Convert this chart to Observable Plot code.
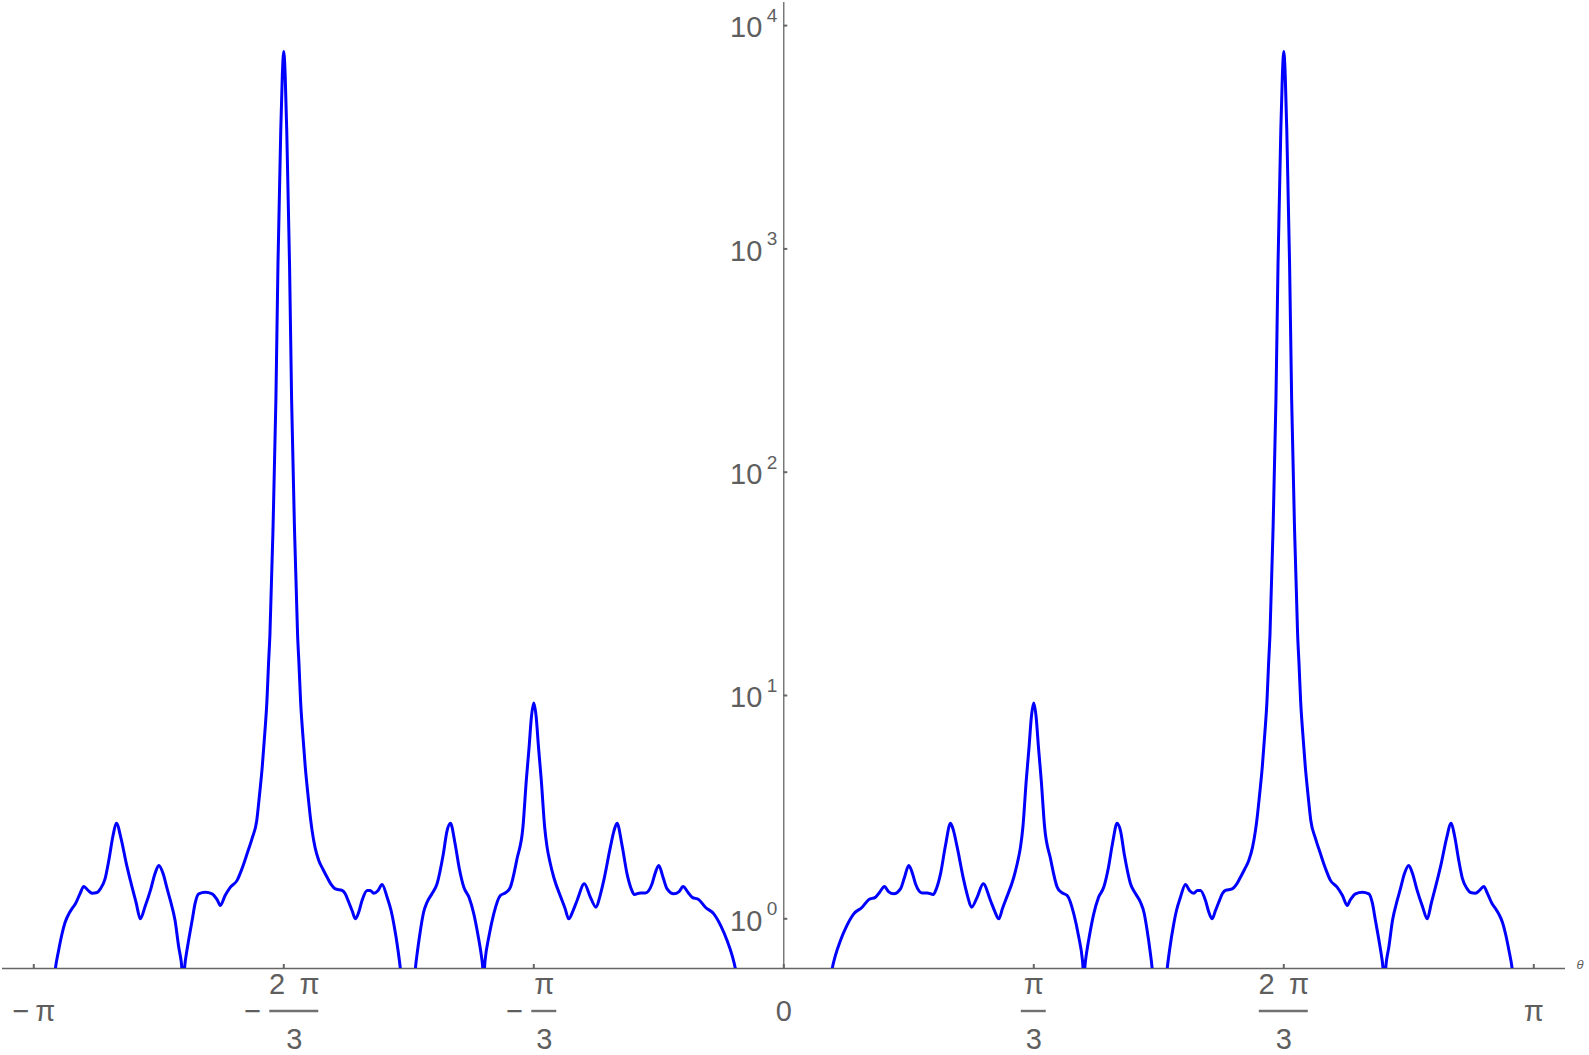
<!DOCTYPE html>
<html>
<head>
<meta charset="utf-8">
<script src="https://cdn.jsdelivr.net/npm/d3@7"></script>
<script src="https://cdn.jsdelivr.net/npm/@observablehq/plot@0.6"></script>
<style>
  html, body { margin: 0; padding: 0; background: #ffffff; }
  #chart svg { display: block; }
</style>
</head>
<body>
<div id="chart"></div>
<script>
// θ in units of π, value on a log axis (left half: −π … 0)
const thetaLeft = [
  -0.9736,-0.9712,-0.9669,-0.9623,-0.9583,-0.9533,-0.9489,-0.9445,-0.9383,-0.9333,
  -0.9276,-0.9223,-0.9156,-0.9112,-0.9049,-0.9000,-0.8943,-0.8899,-0.8836,-0.8769,
  -0.8712,-0.8636,-0.8579,-0.8516,-0.8445,-0.8383,-0.8333,-0.8276,-0.8223,-0.8179,
  -0.8116,-0.8067,-0.8036,-0.8009,-0.7979,-0.7936,-0.7889,-0.7849,-0.7801,-0.7712,
  -0.7623,-0.7556,-0.7512,-0.7449,-0.7378,-0.7289,-0.7223,-0.7156,-0.7090,-0.7027,
  -0.6991,-0.6954,-0.6920,-0.6891,-0.6871,-0.6851,-0.6812,-0.6772,-0.6744,
  -0.6707,-0.6686,-0.6667,-0.6648,-0.6627,-0.6590,-0.6562,-0.6522,-0.6483,
  -0.6463,-0.6443,-0.6414,-0.6380,-0.6343,-0.6307,-0.6289,-0.6249,-0.6200,-0.6143,
  -0.6089,-0.6036,-0.5979,-0.5889,-0.5849,-0.5800,-0.5756,-0.5712,-0.5669,-0.5623,
  -0.5556,-0.5516,-0.5467,-0.5409,-0.5356,-0.5289,-0.5236,-0.5200,-0.5143,-0.5112,
  -0.5089,-0.5000,
  -0.4929,-0.4912,-0.4883,-0.4845,-0.4803,-0.4756,-0.4689,-0.4623,-0.4543,-0.4489,
  -0.4445,-0.4383,-0.4329,-0.4267,-0.4196,-0.4133,-0.4076,-0.4023,-0.4000,-0.3983,
  -0.3929,-0.3867,-0.3779,-0.3703,-0.3645,-0.3556,-0.3478,-0.3433,-0.3396,-0.3363,
  -0.3333,-0.3303,-0.3270,-0.3233,-0.3188,-0.3156,-0.3116,-0.3067,-0.2956,-0.2916,
  -0.2867,-0.2809,-0.2756,-0.2659,-0.2579,-0.2503,-0.2449,-0.2400,-0.2312,-0.2263,
  -0.2223,-0.2156,-0.2089,-0.2036,-0.1992,-0.1912,-0.1845,-0.1756,-0.1716,-0.1667,
  -0.1609,-0.1556,-0.1467,-0.1396,-0.1343,-0.1276,-0.1223,-0.1133,-0.1045,-0.0933,
  -0.0836,-0.0756,-0.0689,-0.0645,-0.0609
];
const valueLeft = [
  0.502,0.597,0.721,0.857,0.962,1.052,1.112,1.167,1.297,1.396,
  1.340,1.303,1.312,1.361,1.514,1.824,2.360,2.679,2.286,1.786,
  1.486,1.183,1.000,1.135,1.340,1.596,1.734,1.596,1.368,1.208,
  0.982,0.746,0.650,0.541,0.650,0.800,0.982,1.172,1.294,1.315,
  1.294,1.219,1.148,1.271,1.387,1.486,1.679,1.954,2.286,2.754,
  3.565,4.775,6.761,9.506,13.61,18.88,52.97,209.4,857.0,
  3388,5984,7656,5984,3388,857.0,209.4,52.97,18.88,
  13.61,9.506,6.761,4.775,3.565,2.754,2.483,2.084,1.824,1.663,
  1.535,1.426,1.361,1.340,1.297,1.186,1.089,1.000,1.067,1.208,
  1.340,1.340,1.303,1.340,1.426,1.250,1.089,0.951,0.721,0.597,
  0.502,null,
  0.502,0.597,0.721,0.887,1.067,1.186,1.297,1.435,1.919,2.483,
  2.679,2.173,1.698,1.387,1.245,1.052,0.841,0.650,0.557,0.650,
  0.841,1.052,1.271,1.312,1.387,1.862,2.570,4.169,5.861,8.128,
  9.247,8.128,5.861,4.169,2.570,2.094,1.786,1.535,1.208,1.112,
  1.000,1.089,1.208,1.435,1.250,1.127,1.271,1.486,2.094,2.483,
  2.679,2.128,1.585,1.368,1.285,1.306,1.306,1.435,1.596,1.734,
  1.531,1.361,1.294,1.324,1.396,1.312,1.250,1.219,1.127,1.052,
  0.925,0.800,0.686,0.597,0.502
];
// right half: 0 … π
const thetaRight = [
  0.0609,0.0645,0.0689,0.0756,0.0836,0.0933,0.1045,0.1133,0.1223,0.1276,
  0.1343,0.1396,0.1467,0.1556,0.1609,0.1667,0.1716,0.1756,0.1845,0.1912,
  0.1992,0.2036,0.2089,0.2156,0.2223,0.2263,0.2312,0.2400,0.2449,0.2503,
  0.2579,0.2659,0.2756,0.2809,0.2867,0.2916,0.2956,0.3067,0.3116,0.3156,
  0.3188,0.3233,0.3270,0.3303,0.3333,0.3363,0.3396,0.3433,0.3478,0.3556,
  0.3645,0.3703,0.3779,0.3867,0.3929,0.3983,0.4000,0.4023,0.4076,0.4133,
  0.4196,0.4267,0.4329,0.4383,0.4445,0.4489,0.4543,0.4623,0.4689,0.4756,
  0.4803,0.4845,0.4883,0.4912,0.4929,
  0.5000,
  0.5089,0.5112,0.5143,0.5200,0.5236,0.5289,0.5356,0.5409,0.5467,0.5516,
  0.5556,0.5623,0.5669,0.5712,0.5756,0.5800,0.5849,0.5889,0.5979,0.6036,
  0.6089,0.6143,0.6200,0.6249,0.6289,0.6307,0.6343,0.6380,0.6414,0.6443,
  0.6463,0.6483,0.6522,0.6562,0.6590,0.6627,0.6648,0.6667,0.6686,
  0.6707,0.6744,0.6772,0.6812,0.6851,0.6871,0.6891,0.6920,0.6954,
  0.6991,0.7027,0.7090,0.7156,0.7223,0.7289,0.7378,0.7449,0.7512,0.7556,
  0.7623,0.7712,0.7801,0.7849,0.7889,0.7936,0.7979,0.8009,0.8036,0.8067,
  0.8116,0.8179,0.8223,0.8276,0.8333,0.8383,0.8445,0.8516,0.8579,0.8636,
  0.8712,0.8769,0.8836,0.8899,0.8943,0.9000,0.9049,0.9112,0.9156,0.9223,
  0.9276,0.9333,0.9383,0.9445,0.9489,0.9533,0.9583,0.9623,0.9669,0.9712,
  0.9736
];
const valueRight = [
  0.502,0.597,0.686,0.800,0.925,1.052,1.127,1.219,1.250,1.312,
  1.396,1.324,1.294,1.361,1.531,1.734,1.596,1.435,1.306,1.306,
  1.285,1.368,1.585,2.128,2.679,2.483,2.094,1.486,1.271,1.127,
  1.250,1.435,1.208,1.089,1.000,1.112,1.208,1.535,1.786,2.094,
  2.570,4.169,5.861,8.128,9.247,8.128,5.861,4.169,2.570,1.862,
  1.387,1.312,1.271,1.052,0.841,0.650,0.557,0.650,0.841,1.052,
  1.245,1.387,1.698,2.173,2.679,2.483,1.919,1.435,1.297,1.186,
  1.067,0.887,0.721,0.597,0.502,
  null,
  0.502,0.597,0.721,0.951,1.089,1.250,1.426,1.340,1.303,1.340,
  1.340,1.208,1.067,1.000,1.089,1.186,1.297,1.340,1.361,1.426,
  1.535,1.663,1.824,2.084,2.483,2.754,3.565,4.775,6.761,9.506,
  13.61,18.88,52.97,209.4,857.0,3388,5984,7656,5984,
  3388,857.0,209.4,52.97,18.88,13.61,9.506,6.761,4.775,
  3.565,2.754,2.286,1.954,1.679,1.486,1.387,1.271,1.148,1.219,
  1.294,1.315,1.294,1.172,0.982,0.800,0.650,0.541,0.650,0.746,
  0.982,1.208,1.368,1.596,1.734,1.596,1.340,1.135,1.000,1.183,
  1.486,1.786,2.286,2.679,2.360,1.824,1.514,1.361,1.312,1.303,
  1.340,1.396,1.297,1.167,1.112,1.052,0.962,0.857,0.721,0.597,
  0.502
];

// axis ticks
const xTicks = [-1, -2/3, -1/3, 0, 1/3, 2/3, 1];          // in units of π
const xTickPlain = ["\u2212\u2009\u03C0", "", "", "0", "", "", "\u03C0"];
const xTickSign = ["", "\u2212", "\u2212", "", "", "", ""];
const xTickNumer = ["", "2\u2002\u03C0", "\u03C0", "", "\u03C0", "2\u2002\u03C0", ""];
const xTickDenom = ["", "3", "3", "", "3", "3", ""];
const yTicks = [1, 10, 100, 1000, 10000];
const yTickExponents = ["0", "1", "2", "3", "4"];
const xLabel = "\u03B8";

// ---- build table
const curve = [
  ...thetaLeft.map((t, i) => ({t, v: valueLeft[i]})),
  {t: 0, v: null},
  ...thetaRight.map((t, i) => ({t, v: valueRight[i]}))
];

const xDomain = [-1.0417, 1.0423];
const yDomain = [0.599, 12690];
const gray = "#666666";
const labelGray = "#5e5e5e";
const fs = 29;

const idx = xTicks.map((_, i) => i);
const marks = [
  // axis lines
  Plot.ruleY([yDomain[0]], {stroke: gray, strokeWidth: 1.3}),
  Plot.ruleX([0], {stroke: gray, strokeWidth: 1.3}),
  // x ticks (pointing up)
  Plot.ruleX(xTicks, {x: d => d, stroke: gray, strokeWidth: 2, insetTop: 962}),
  // y ticks (pointing right)
  Plot.ruleY(yTicks, {y: d => d, x1: () => 0, x2: () => 0, insetRight: -4, stroke: gray, strokeWidth: 2}),
  // y tick labels 10^n
  Plot.text(yTicks, {x: () => 0, y: d => d, text: () => "10", textAnchor: "end", lineAnchor: "middle", dx: -21.5, dy: 2.5, fontSize: fs, fill: labelGray}),
  Plot.text(yTicks, {x: () => 0, y: d => d, text: (d, i) => yTickExponents[i], textAnchor: "end", lineAnchor: "middle", dx: -6.5, dy: -9.5, fontSize: 19, fill: labelGray}),
  // plain x labels
  Plot.text(idx.filter(i => xTickPlain[i]), {x: i => xTicks[i], text: i => xTickPlain[i], frameAnchor: "bottom", lineAnchor: "middle", dy: 43.5, fontSize: fs, fill: labelGray}),
  // x axis title
  Plot.text([xLabel], {text: d => d, frameAnchor: "bottom-right", textAnchor: "start", lineAnchor: "middle", dx: 11, dy: -3.5, fontSize: 13, fontStyle: "italic", fill: labelGray})
];

// fraction labels
for (const i of idx) {
  if (!xTickNumer[i]) continue;
  const neg = xTicks[i] < 0;
  const hw = xTickNumer[i].length > 1 ? 24.5 : 12.5;
  const shift = neg ? 10.5 : 0;
  marks.push(
    Plot.text([i], {x: j => xTicks[j], text: j => xTickNumer[j], frameAnchor: "bottom", lineAnchor: "middle", dx: shift, dy: 16.7, fontSize: fs, fill: labelGray}),
    Plot.text([i], {x: j => xTicks[j], text: j => xTickDenom[j], frameAnchor: "bottom", lineAnchor: "middle", dx: shift, dy: 71.5, fontSize: fs, fill: labelGray}),
    Plot.ruleY([i], {y: () => yDomain[0], x1: j => xTicks[j], x2: j => xTicks[j], dx: shift, dy: 42.5, insetLeft: -hw, insetRight: -hw, stroke: "#707070", strokeWidth: 2.4})
  );
  if (xTickSign[i]) {
    marks.push(Plot.text([i], {x: j => xTicks[j], text: j => xTickSign[j], frameAnchor: "bottom", lineAnchor: "middle", dx: shift - hw - 17, dy: 43.5, fontSize: fs, fill: labelGray}));
  }
}

// the curve
marks.push(Plot.line(curve, {x: "t", y: "v", stroke: "#0000ff", strokeWidth: 3, curve: "monotone-x", clip: true}));

const chart = Plot.plot({
  width: 1589,
  height: 1055,
  marginLeft: 2,
  marginRight: 24,
  marginTop: 2,
  marginBottom: 87,
  style: {fontFamily: "'Liberation Sans', Arial, sans-serif", background: "#ffffff", overflow: "visible"},
  x: {domain: xDomain, axis: null},
  y: {type: "log", domain: yDomain, axis: null},
  marks
});
document.getElementById("chart").appendChild(chart);
</script>
</body>
</html>
